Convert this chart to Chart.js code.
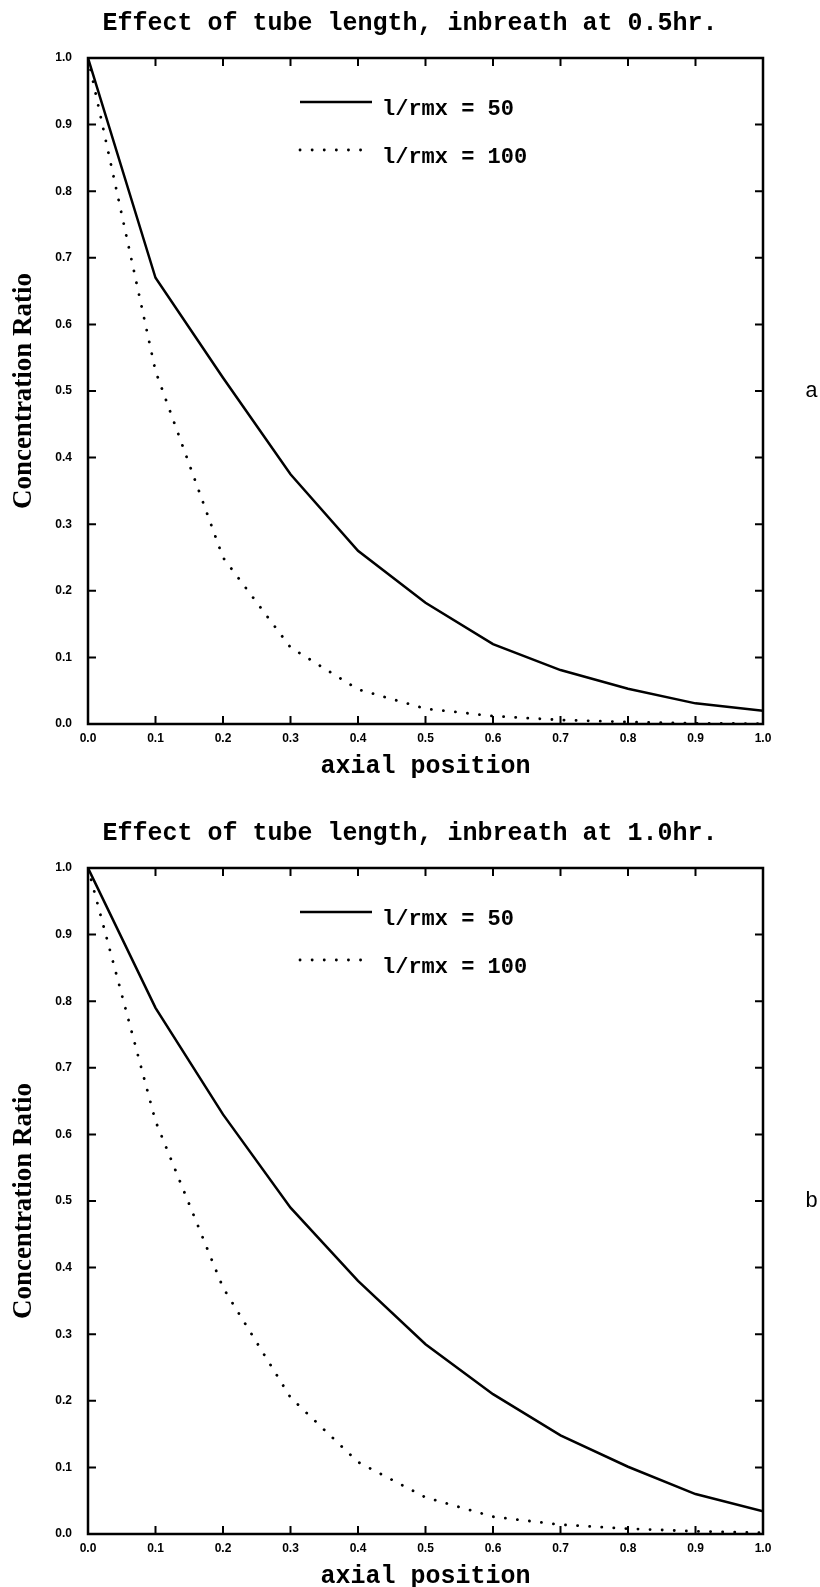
<!DOCTYPE html>
<html>
<head>
<meta charset="utf-8">
<script src="https://cdn.jsdelivr.net/npm/chart.js@4.4.1/dist/chart.umd.min.js"></script>
<style>
  html, body { margin: 0; padding: 0; background: #fff; overflow: hidden; }
  canvas { position: absolute; left: 0; }
</style>
</head>
<body>
<canvas id="chartA" width="820" height="790" style="top:0px"></canvas>
<canvas id="chartB" width="820" height="790" style="top:810px"></canvas>
<script>
// axial positions (x) shared by every curve
const axialPos = [0.0, 0.1, 0.2, 0.3, 0.4, 0.5, 0.6, 0.7, 0.8, 0.9, 1.0];

// inbreath at 0.5 hr
const ratio50_05 = [1.0, 0.67, 0.52, 0.375, 0.26, 0.182, 0.12, 0.081, 0.053, 0.031, 0.02];
const ratio100_05 = [1.0, 0.53, 0.25, 0.115, 0.052, 0.023, 0.012, 0.006, 0.003, 0.001, 0.0005];

// inbreath at 1.0 hr
const ratio50_10 = [1.0, 0.79, 0.63, 0.49, 0.38, 0.285, 0.21, 0.148, 0.101, 0.06, 0.034];
const ratio100_10 = [1.0, 0.62, 0.37, 0.205, 0.108, 0.055, 0.026, 0.014, 0.008, 0.004, 0.002];

const seriesLabels = ["l/rmx = 50", "l/rmx = 100"];
const chartTitles = [
  "Effect of tube length, inbreath at 0.5hr.",
  "Effect of tube length, inbreath at 1.0hr.",
];
const panelLetters = ["a", "b"];

const MONO = "'Liberation Mono', 'DejaVu Sans Mono', monospace";
const SANS = "'Liberation Sans', Arial, sans-serif";

function toPoints(ys) {
  return axialPos.map((x, i) => ({ x: x, y: ys[i] }));
}

// frame, inward tick marks, legend and panel letter
const framePlugin = {
  id: "frame",
  afterDatasetsDraw(chart, args, opts) {
    const { ctx, chartArea: a, scales } = chart;
    const tl = 8;
    ctx.save();
    ctx.strokeStyle = "#000";
    ctx.lineWidth = 2;
    scales.x.ticks.forEach((t) => {
      const px = scales.x.getPixelForValue(t.value);
      ctx.beginPath();
      ctx.moveTo(px, a.bottom);
      ctx.lineTo(px, a.bottom - tl);
      ctx.moveTo(px, a.top);
      ctx.lineTo(px, a.top + tl);
      ctx.stroke();
    });
    scales.y.ticks.forEach((t) => {
      const py = scales.y.getPixelForValue(t.value);
      ctx.beginPath();
      ctx.moveTo(a.left, py);
      ctx.lineTo(a.left + tl, py);
      ctx.moveTo(a.right, py);
      ctx.lineTo(a.right - tl, py);
      ctx.stroke();
    });
    ctx.lineWidth = 2.5;
    ctx.strokeRect(a.left, a.top, a.right - a.left, a.bottom - a.top);

    // legend
    ctx.font = "bold 22px " + MONO;
    ctx.fillStyle = "#000";
    ctx.textBaseline = "middle";
    ctx.textAlign = "left";
    chart.data.datasets.forEach((ds, i) => {
      const ly = a.top + 44 + i * 48;
      ctx.save();
      ctx.lineWidth = ds.borderWidth;
      ctx.lineCap = ds.borderCapStyle || "butt";
      ctx.setLineDash(ds.borderDash || []);
      ctx.beginPath();
      ctx.moveTo(a.left + 212, ly);
      ctx.lineTo(a.left + 284, ly);
      ctx.stroke();
      ctx.restore();
      ctx.fillText(ds.label, a.left + 294, ly + 7);
    });

    // panel letter
    ctx.font = "22px " + MONO;
    ctx.fillText(opts.letter, a.right + 42, (a.top + a.bottom) / 2);
    ctx.restore();
  },
};

function makeChart(id, idx, solid, dotted) {
  new Chart(document.getElementById(id), {
    type: "line",
    data: {
      datasets: [
        {
          label: seriesLabels[0],
          data: toPoints(solid),
          borderColor: "#000",
          borderWidth: 2.5,
          pointRadius: 0,
          tension: 0,
        },
        {
          label: seriesLabels[1],
          data: toPoints(dotted),
          borderColor: "#000",
          borderWidth: 2.8,
          borderDash: [0.1, 12],
          borderCapStyle: "round",
          pointRadius: 0,
          tension: 0,
        },
      ],
    },
    options: {
      responsive: false,
      animation: false,
      devicePixelRatio: 1,
      layout: { padding: 0 },
      plugins: {
        legend: { display: false },
        tooltip: { enabled: false },
        title: {
          display: true,
          text: chartTitles[idx],
          color: "#000",
          font: { family: MONO, size: 25, weight: "bold", lineHeight: 1.2 },
          padding: { top: 9, bottom: 19 },
        },
        frame: { letter: panelLetters[idx] },
      },
      scales: {
        x: {
          type: "linear",
          min: 0,
          max: 1,
          grid: { display: false, drawTicks: false },
          border: { display: false },
          ticks: {
            stepSize: 0.1,
            padding: 7,
            color: "#000",
            font: { family: SANS, size: 12, weight: "bold" },
            callback: (v) => v.toFixed(1),
            maxRotation: 0,
          },
          title: {
            display: true,
            text: "axial position",
            color: "#000",
            font: { family: MONO, size: 25, weight: "bold", lineHeight: 1.2 },
            padding: { top: 0, bottom: 8 },
          },
          afterFit: (s) => { s.height = 790 - 724; },
        },
        y: {
          min: 0,
          max: 1,
          grid: { display: false, drawTicks: false },
          border: { display: false },
          ticks: {
            stepSize: 0.1,
            padding: 16,
            color: "#000",
            font: { family: SANS, size: 12, weight: "bold" },
            callback: (v) => v.toFixed(1),
          },
          title: {
            display: true,
            text: "Concentration Ratio",
            color: "#000",
            font: { family: "'Liberation Serif', 'DejaVu Serif', serif", size: 27, weight: "bold", lineHeight: 1.2 },
            padding: { top: 8, bottom: 0 },
          },
          afterFit: (s) => { s.width = 88; },
        },
        // empty right-hand axis that only reserves the margin beside the plot
        yRight: {
          position: "right",
          min: 0,
          max: 1,
          grid: { display: false, drawTicks: false },
          border: { display: false },
          ticks: { display: false },
          afterFit: (s) => { s.width = 57; },
        },
      },
    },
    plugins: [framePlugin],
  });
}

makeChart("chartA", 0, ratio50_05, ratio100_05);
makeChart("chartB", 1, ratio50_10, ratio100_10);
</script>
</body>
</html>
